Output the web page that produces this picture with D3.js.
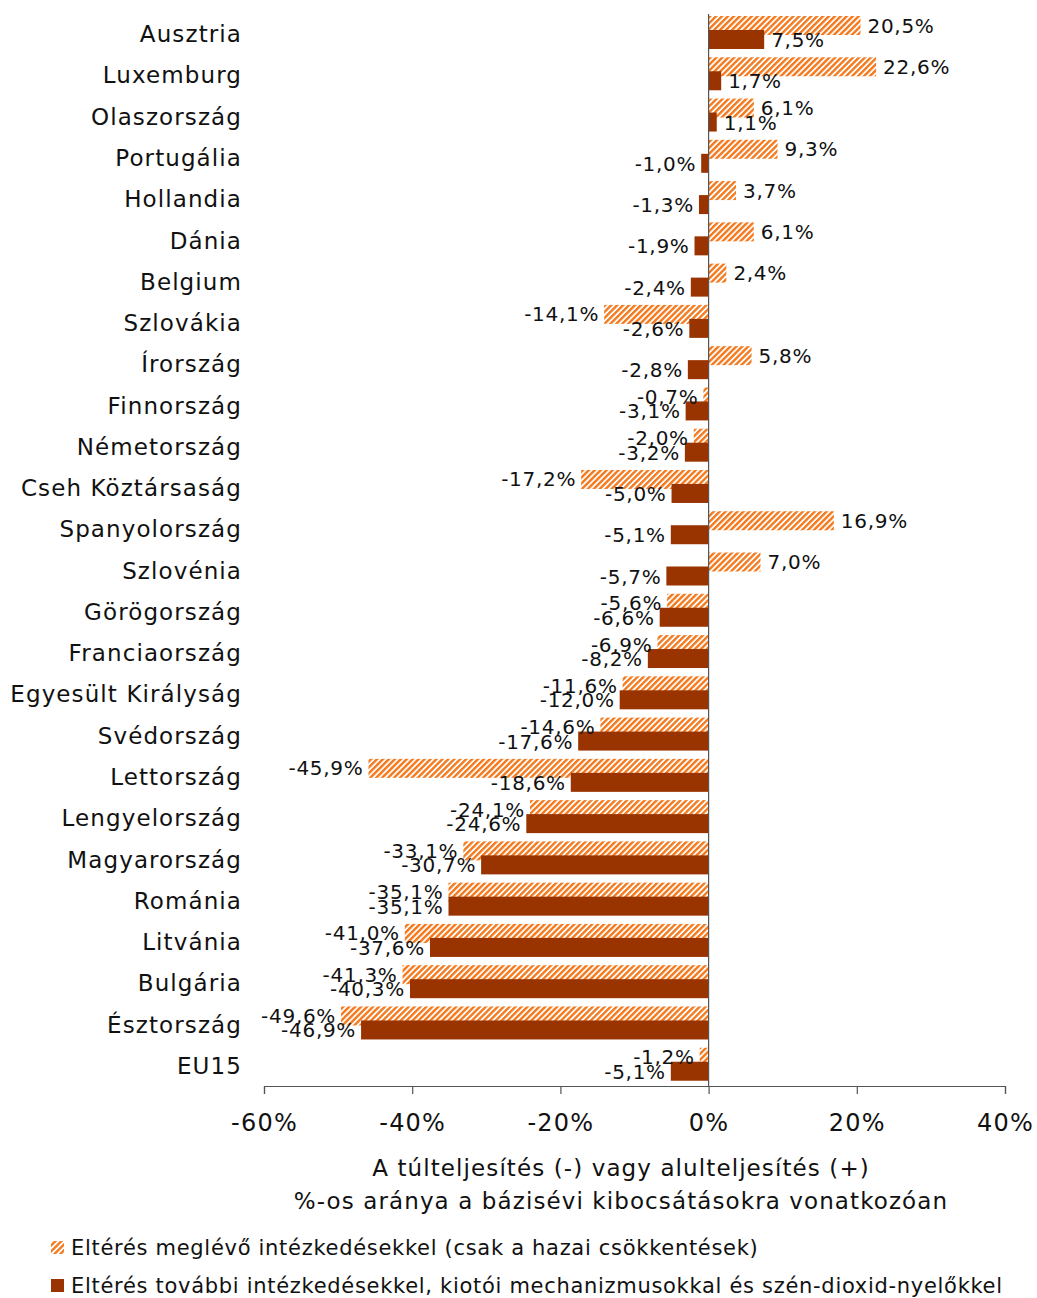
<!DOCTYPE html>
<html><head><meta charset="utf-8">
<script src="https://cdn.jsdelivr.net/npm/d3@7"></script>
<style>
body{margin:0;background:#fff;}
text{font-family:"DejaVu Sans",Verdana,sans-serif;fill:#111;}
</style></head>
<body>
<svg id="chart" width="1037" height="1298"></svg>
<script>
const categories = ["Ausztria","Luxemburg","Olaszország","Portugália","Hollandia","Dánia","Belgium","Szlovákia","Írország","Finnország","Németország","Cseh Köztársaság","Spanyolország","Szlovénia","Görögország","Franciaország","Egyesült Királyság","Svédország","Lettország","Lengyelország","Magyarország","Románia","Litvánia","Bulgária","Észtország","EU15"];
const existingMeasures = [20.5,22.6,6.1,9.3,3.7,6.1,2.4,-14.1,5.8,-0.7,-2.0,-17.2,16.9,7.0,-5.6,-6.9,-11.6,-14.6,-45.9,-24.1,-33.1,-35.1,-41.0,-41.3,-49.6,-1.2];
const additionalMeasures = [7.5,1.7,1.1,-1.0,-1.3,-1.9,-2.4,-2.6,-2.8,-3.1,-3.2,-5.0,-5.1,-5.7,-6.6,-8.2,-12.0,-17.6,-18.6,-24.6,-30.7,-35.1,-37.6,-40.3,-46.9,-5.1];
const xTicks = [-60,-40,-20,0,20,40];
const seriesNames = ["Eltérés meglévő intézkedésekkel (csak a hazai csökkentések)","Eltérés további intézkedésekkel, kiotói mechanizmusokkal és szén-dioxid-nyelőkkel"];
const axisTitle = ["A túlteljesítés (-) vagy alulteljesítés (+)","%-os aránya a bázisévi kibocsátásokra vonatkozóan"];

const orange = "#F47A1F", brown = "#993300";
const svg = d3.select("#chart");
const defs = svg.append("defs");
const pat = defs.append("pattern").attr("id","hatch").attr("patternUnits","userSpaceOnUse")
  .attr("width",4.2).attr("height",4.2).attr("patternTransform","rotate(45)");
pat.append("rect").attr("width",4.2).attr("height",4.2).attr("fill","#fff");
pat.append("rect").attr("width",2.4).attr("height",4.2).attr("fill",orange);

const x = d3.scaleLinear().domain([-60,40]).range([264,1005]);
const y = d3.scaleBand().domain(categories).range([13,1086]).paddingInner(0).paddingOuter(0);
const fmt = v => d3.format(".1f")(v).replace(".",",").replace("−","-") + "%";
const data = categories.map((c,i)=>({c, a:existingMeasures[i], b:additionalMeasures[i]}));

const g = svg.append("g");
g.selectAll(".ha").data(data).enter().append("rect")
  .attr("x",d=>x(Math.min(0,d.a))).attr("width",d=>Math.abs(x(d.a)-x(0)))
  .attr("y",d=>y(d.c)+3).attr("height",19).attr("fill","url(#hatch)");
g.selectAll(".sb").data(data).enter().append("rect")
  .attr("x",d=>x(Math.min(0,d.b))).attr("width",d=>Math.abs(x(d.b)-x(0)))
  .attr("y",d=>y(d.c)+17).attr("height",19).attr("fill",brown);

const ax = svg.append("g").attr("transform","translate(0,1086)")
  .call(d3.axisBottom(x).tickValues(xTicks).tickSize(8).tickFormat(d=>d3.format("d")(d).replace("−","-")+"%"));
ax.select(".domain").attr("stroke","#555").attr("stroke-width",1.2);
ax.selectAll(".tick line").attr("stroke","#555").attr("stroke-width",1.2);
ax.selectAll(".tick text").attr("y",28).attr("dy","0.71em").style("font-size","24px").style("letter-spacing","1.2px")
  .style("font-family","'DejaVu Sans',Verdana,sans-serif").attr("fill","#111");
svg.append("line").attr("x1",x(0)).attr("x2",x(0)).attr("y1",14).attr("y2",1086).attr("stroke","#555").attr("stroke-width",1.2);

const lab = svg.append("g").style("font-size","20px").style("letter-spacing","0.7px");
data.forEach(d=>{
  lab.append("text").attr("x", d.a>=0 ? x(d.a)+7 : x(d.a)-5).attr("y",y(d.c)+12.5).attr("dy","0.35em")
    .attr("text-anchor", d.a>=0 ? "start":"end").text(fmt(d.a));
  lab.append("text").attr("x", d.b>=0 ? x(d.b)+7 : x(d.b)-5).attr("y",y(d.c)+27).attr("dy","0.35em")
    .attr("text-anchor", d.b>=0 ? "start":"end").text(fmt(d.b));
});

svg.append("g").selectAll("text").data(categories).enter().append("text")
  .attr("x",242).attr("y",d=>y(d)+y.bandwidth()/2+0.5).attr("dy","0.35em").attr("text-anchor","end")
  .style("font-size","23px").style("letter-spacing","1.1px").text(d=>d);

svg.append("g").selectAll("text").data(axisTitle).enter().append("text")
  .attr("x",621).attr("y",(d,i)=>1168+i*33).attr("dy","0.35em").attr("text-anchor","middle")
  .style("font-size","23px").style("letter-spacing","1.1px").text(d=>d);

const lg = svg.append("g");
seriesNames.forEach((s,i)=>{
  const yy = 1248 + i*38;
  lg.append("rect").attr("x",51).attr("y",yy-7).attr("width",13).attr("height",13)
    .attr("fill", i===0 ? "url(#hatch)" : brown);
  lg.append("text").attr("x",71).attr("y",yy).attr("dy","0.35em").style("font-size","21px").style("letter-spacing","0.7px").text(s);
});
</script>
</body></html>
